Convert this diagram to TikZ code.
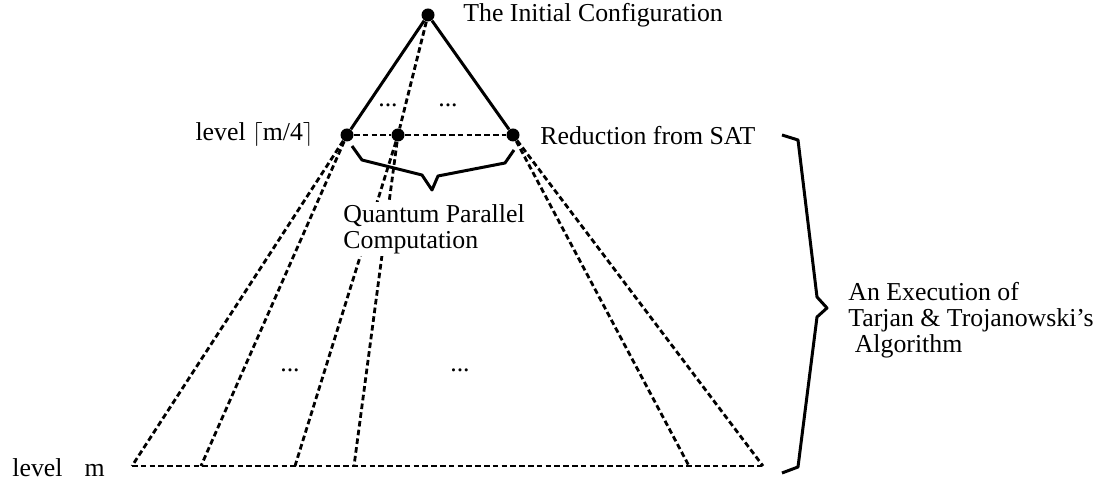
\documentclass[tikz,border=0pt]{standalone}
\usepackage{fontspec}
\setmainfont{Liberation Serif}
\begin{document}
\begin{tikzpicture}[
    dot/.style={circle,fill=black,inner sep=0pt,minimum size=6.5pt},
    solidline/.style={line width=1.5pt,line join=round},
    dashline/.style={line width=1.4pt,dash pattern=on 2.8pt off 1.6pt},
    lbl/.style={inner sep=0pt,font=\fontsize{12.9}{13}\selectfont},
  ]
    \def\x{0.5pt}
    \def\y{0.5pt}
    \useasboundingbox (0,0) rectangle (1109*\x,-485*\y);
    \node [dot] (A0_0) at (428*\x,-15*\y) {};
    \node [dot] (A1_0) at (347*\x,-135*\y) {};
    \node [dot] (A1_1) at (398*\x,-135*\y) {};
    \node [dot] (A1_2) at (513*\x,-135*\y) {};
    \coordinate (A2_0) at (132*\x,-466*\y);
    \coordinate (A2_1) at (201*\x,-466*\y);
    \coordinate (A2_2) at (295*\x,-466*\y);
    \coordinate (A2_3) at (354*\x,-466*\y);
    \coordinate (A2_4) at (689*\x,-466*\y);
    \coordinate (A2_5) at (763*\x,-466*\y);
    \path (A0_0) edge [solidline] (A1_0);
    \path (A0_0) edge [solidline] (A1_2);
    \path (A0_0) edge [dashline] (A1_1);
    \path (A1_0) edge [dashline] (A1_1);
    \path (A1_1) edge [dashline] (A1_2);
    \path (A1_0) edge [dashline] (A2_0);
    \path (A1_0) edge [dashline] (A2_1);
    \path (A1_1) edge [dashline] (A2_2);
    \path (A1_1) edge [dashline] (A2_3);
    \path (A1_2) edge [dashline] (A2_4);
    \path (A1_2) edge [dashline] (A2_5);
    \path (A2_0) edge [dashline] (A2_5);
    % braces
    \draw [solidline] (352*\x,-146*\y) -- (362*\x,-160*\y) -- (422*\x,-175*\y)
      -- (432*\x,-190*\y) -- (438*\x,-176*\y) -- (505*\x,-163*\y) -- (514*\x,-150*\y);
    \draw [solidline] (782*\x,-135*\y) -- (798*\x,-140*\y) -- (817*\x,-297*\y)
      -- (827*\x,-308*\y) -- (817*\x,-317*\y) -- (798*\x,-467*\y) -- (782*\x,-473*\y);
    % labels
    \node [lbl,anchor=base west] (L0) at (463*\x,-22*\y) {The Initial Configuration};
    \node [lbl,anchor=base east] (L1) at (314*\x,-141*\y) {level $\lceil$m/4$\rceil$};
    \node [lbl,anchor=base west] (L2) at (540*\x,-145*\y) {Reduction from SAT};
    \node [lbl,anchor=west,fill=white,inner sep=1pt,align=left] (L3)
      at (341*\x,-229*\y) {Quantum Parallel\\Computation};
    \node [lbl,anchor=west,align=left] (L4) at (848*\x,-320*\y)
      {An Execution of\\Tarjan \& Trojanowski’s\\\ Algorithm};
    \node [lbl,anchor=base west] (L5) at (12*\x,-477*\y) {level\hspace{11pt}m};
    \node [lbl] (D0) at (388*\x,-105*\y) {...};
    \node [lbl] (D1) at (448*\x,-105*\y) {...};
    \node [lbl] (D2) at (290*\x,-370*\y) {...};
    \node [lbl] (D3) at (460*\x,-370*\y) {...};
\end{tikzpicture}
\end{document}
